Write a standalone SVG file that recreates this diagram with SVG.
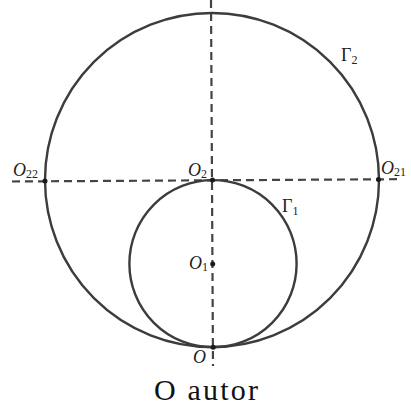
<svg xmlns="http://www.w3.org/2000/svg" width="411" height="409" viewBox="0 0 411 409">
<style>
.c{fill:none;stroke:#3c3c3c;stroke-width:2.4}
.d{fill:none;stroke:#444;stroke-width:2.2;stroke-dasharray:8,5}
.p{fill:#1a1a1a}
.t{font-family:"Liberation Serif",serif;font-style:italic;font-size:18px;fill:#222}
.g{font-family:"Liberation Serif",serif;font-size:18px;fill:#222}
.s{font-size:12px;font-style:normal}
.cap{font-family:"Liberation Serif",serif;font-size:30px;fill:#111}
</style>
<rect width="411" height="409" fill="#fff"/>
<g id="connectors">
<line class="d" x1="211" y1="0" x2="213" y2="366"/>
<line class="d" x1="12" y1="181.5" x2="398" y2="179.2"/>
</g>
<g id="Gamma2"><circle class="c" cx="212" cy="180" r="167"/><text class="g" x="341" y="61">Γ<tspan class="s" dy="3">2</tspan></text></g>
<g id="Gamma1"><circle class="c" cx="213" cy="263.7" r="83.6"/><text class="g" x="282" y="212">Γ<tspan class="s" dy="3">1</tspan></text></g>
<g id="O22"><circle class="p" cx="45" cy="181" r="2.5"/><text class="t" x="13" y="176">O<tspan class="s" dy="2">22</tspan></text></g>
<g id="O2"><circle class="p" cx="212.5" cy="180" r="2.5"/><text class="t" x="188" y="176">O<tspan class="s" dy="2">2</tspan></text></g>
<g id="O21"><circle class="p" cx="378.5" cy="179.4" r="2.5"/><text class="t" x="381" y="174">O<tspan class="s" dy="2">21</tspan></text></g>
<g id="O1"><circle class="p" cx="212.7" cy="264" r="2.5"/><text class="t" x="189" y="269">O<tspan class="s" dy="2">1</tspan></text></g>
<g id="O"><circle class="p" cx="213.2" cy="347.3" r="2.5"/><text class="t" x="193" y="363">O</text></g>
<text class="cap" x="206" y="400" text-anchor="middle" textLength="104" lengthAdjust="spacing">O autor</text>
</svg>
